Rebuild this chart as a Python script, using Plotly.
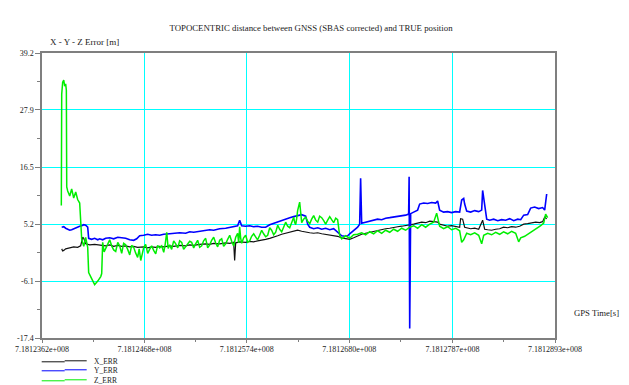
import plotly.graph_objects as go

# ---------------- data ----------------
T0 = 718123620  # GPS time [s] of first x tick

x_tick_vals = [718123620, 718124680, 718125740, 718126800, 718127870, 718128930]
x_tick_text = ["7.1812362e+008", "7.1812468e+008", "7.1812574e+008",
               "7.1812680e+008", "7.1812787e+008", "7.1812893e+008"]
x_minor_vals = [718124150, 718125210, 718126270, 718127335, 718128400]

y_tick_vals = [39.2, 27.9, 16.5, 5.2, -6.1, -17.4]
y_tick_text = ["39.2", "27.9", "16.5", "5.2", "-6.1", "-17.4"]
y_minor_vals = [33.55, 22.2, 10.85, -0.45, -11.75]

series_names = ["X_ERR", "Y_ERR", "Z_ERR"]
series_colors = ["#111111", "#0000ff", "#00ee00"]

# X_ERR  (seconds after T0, metres)
x_err_t = [204, 214, 225, 245, 287, 328, 369, 400, 421, 432, 452, 494, 545, 597, 659, 701,
           742, 784, 825, 866, 908, 949, 990, 1053, 1094, 1135, 1177, 1218, 1260, 1322, 1363,
           1425, 1487, 1529, 1570, 1632, 1694, 1736, 1777, 1839, 1901, 1943, 1984, 1994, 2005,
           2046, 2108, 2150, 2191, 2232, 2274, 2315, 2357, 2398, 2440, 2481, 2522, 2564, 2605,
           2646, 2688, 2729, 2771, 2812, 2854, 2895, 2936, 2978, 3019, 3060, 3102, 3143, 3185,
           3226, 3267, 3309, 3350, 3392, 3433, 3474, 3516, 3557, 3599, 3640, 3681, 3723, 3764,
           3806, 3847, 3888, 3930, 3971, 4013, 4054, 4095, 4116, 4157, 4199, 4240, 4282, 4323,
           4333, 4354, 4375, 4396, 4437, 4479, 4520, 4561, 4582, 4613, 4654, 4696, 4737, 4778,
           4820, 4861, 4903, 4944, 4986, 5027, 5068, 5110, 5151, 5182, 5203, 5224]
x_err_v = [0.3, -0.1, 0.0, 0.3, 0.5, 0.7, 0.6, 0.9, 2.6, 2.4, 1.3, 1.1, 1.2, 1.0, 0.9, 1.1,
           0.8, 1.0, 0.8, 0.9, 0.7, 0.8, 0.6, 0.7, 0.5, 0.7, 0.6, 0.8, 0.7, 0.9, 0.8,
           1.0, 0.9, 1.1, 1.0, 1.2, 1.3, 1.2, 1.4, 1.3, 1.5, 1.4, 1.6, -2.0, 1.5,
           1.7, 1.6, 1.8, 1.7, 1.9, 2.0, 2.2, 2.4, 2.6, 2.9, 3.2, 3.4, 3.7, 3.9,
           4.0, 3.8, 3.6, 3.5, 3.4, 3.5, 3.3, 3.2, 3.1, 3.0, 2.8, 2.5, 2.3, 2.2,
           2.5, 2.9, 3.2, 3.4, 3.6, 3.8, 3.9, 4.1, 4.3, 4.4, 4.6, 4.7, 4.8, 4.9,
           5.1, 5.2, 5.4, 5.6, 5.5, 5.8, 5.7, 5.6, 5.2, 5.0, 4.8, 4.9, 4.7, 4.6,
           6.3, 6.2, 4.6, 4.5, 4.3, 4.4, 4.2, 6.0, 4.2, 4.1, 4.0, 4.2, 4.3, 4.6,
           4.5, 4.7, 4.6, 4.8, 5.2, 5.3, 5.4, 5.6, 5.5, 5.7, 6.6, 6.3]

# Y_ERR
y_err_t = [204, 225, 245, 266, 287, 307, 328, 349, 369, 390, 411, 432, 452, 473, 483, 514,
           545, 577, 597, 628, 659, 701, 742, 784, 825, 866, 908, 949, 980, 1011, 1053, 1094,
           1135, 1177, 1218, 1260, 1322, 1363, 1425, 1487, 1529, 1570, 1632, 1694, 1736, 1777,
           1839, 1901, 1943, 1984, 2025, 2046, 2067, 2108, 2150, 2191, 2232, 2274, 2315, 2357,
           2398, 2440, 2481, 2522, 2564, 2605, 2646, 2688, 2729, 2750, 2771, 2812, 2854, 2895,
           2936, 2978, 3019, 3050, 3081, 3102, 3133, 3164, 3185, 3226, 3267, 3288, 3298, 3309,
           3350, 3392, 3433, 3474, 3516, 3557, 3599, 3640, 3681, 3723, 3764, 3795, 3800, 3806,
           3816, 3847, 3888, 3909, 3951, 3992, 4033, 4075, 4095, 4116, 4157, 4199, 4240, 4282,
           4323, 4344, 4365, 4375, 4396, 4437, 4479, 4520, 4551, 4561, 4582, 4603, 4634, 4675,
           4717, 4758, 4799, 4841, 4882, 4924, 4955, 4986, 5027, 5058, 5099, 5141, 5182, 5203,
           5224]
y_err_v = [4.6, 4.7, 4.4, 4.2, 4.0, 4.1, 4.3, 4.5, 4.6, 4.8, 4.9, 5.1, 5.0, 4.6, 2.4, 2.2,
           2.4, 2.1, 2.3, 2.1, 2.4, 2.5, 2.3, 2.6, 2.5, 2.4, 2.1, 2.0, 2.3, 2.9, 3.0, 3.2,
           3.0, 3.1, 3.0, 3.2, 3.3, 3.4, 3.5, 3.4, 3.7, 3.6, 3.8, 3.9, 4.1, 4.0,
           4.3, 4.4, 4.6, 4.7, 4.9, 6.0, 4.9, 4.8, 4.9, 4.7, 4.8, 4.6, 4.6, 5.1,
           5.4, 5.7, 5.9, 6.2, 6.5, 6.7, 6.9, 7.1, 6.8, 5.2, 4.6, 4.3, 4.5, 4.2,
           4.4, 4.1, 4.3, 3.7, 3.3, 2.9, 2.8, 2.9, 3.3, 3.9, 4.6, 5.2, 14.3, 5.4,
           5.6, 5.8, 6.0, 6.2, 6.1, 6.4, 6.5, 6.6, 6.8, 6.9, 7.0, 7.2, 14.6, -15.5,
           7.3, 7.6, 8.0, 9.2, 9.4, 9.3, 9.5, 9.4, 9.8, 8.0, 7.6, 7.7, 7.5, 7.7,
           7.6, 10.0, 10.3, 9.2, 7.8, 7.6, 7.9, 7.7, 8.0, 11.9, 8.5, 6.2, 6.0, 6.2,
           5.9, 6.1, 6.0, 6.3, 5.9, 6.2, 6.1, 7.0, 7.1, 8.4, 8.6, 8.3, 8.5, 8.0,
           11.2]

# Z_ERR
z_err_t = [200, 204, 214, 225, 235, 245, 252, 256, 266, 287, 307, 328, 349, 369, 390, 400,
           411, 432, 452, 473, 483, 514, 545, 577, 608, 618,
           628, 643, 659, 680, 701, 721, 742, 763, 784, 804, 825, 845, 866, 887, 908, 928,
           949, 969, 990, 1006, 1022, 1037, 1053, 1073, 1094, 1114, 1135, 1156, 1177, 1197,
           1218, 1239, 1260, 1275, 1291, 1306, 1322, 1342, 1363, 1384, 1405, 1425, 1446, 1466,
           1487, 1508, 1529, 1549, 1570, 1590, 1611, 1632, 1653, 1673, 1694, 1715, 1736, 1756,
           1777, 1797, 1818, 1839, 1860, 1880, 1901, 1922, 1943, 1963, 1984, 2005, 2025, 2036,
           2046, 2056, 2067, 2087, 2108, 2129, 2150, 2170, 2191, 2211, 2232, 2253, 2274, 2294,
           2315, 2336, 2357, 2377, 2398, 2419, 2440, 2460, 2481, 2501, 2522, 2543, 2564, 2584,
           2605, 2615, 2626, 2636, 2646, 2667,
           2688, 2708, 2729, 2750, 2771, 2791, 2812, 2833, 2854, 2874, 2895, 2916, 2936, 2957,
           2978, 2998, 3019, 3040, 3060,
           3081, 3102, 3143, 3185, 3226, 3267, 3309, 3350, 3392, 3433, 3474, 3516,
           3557, 3599, 3640, 3681, 3723, 3764, 3806, 3847, 3888, 3930, 3971, 4013, 4054, 4085,
           4116, 4157, 4199, 4240, 4282, 4323, 4344, 4365, 4396, 4437, 4479, 4520, 4551, 4572,
           4613, 4654, 4696, 4737, 4778, 4820, 4861, 4903, 4934, 4955, 4996, 5037, 5079, 5120,
           5162, 5193, 5213, 5234]
z_err_v = [8.9, 31.0, 33.4, 33.8, 32.6, 33.1, 31.8, 12.6, 11.8, 10.8, 12.2, 10.4, 11.6, 10.1, 9.4, 5.0,
           2.2, 0.8, 2.6, 0.6, -4.4, -5.6, -6.8, -6.1, -5.2, -4.6,
           1.6, -0.3, 0.4, 1.2, 2.1, 0.9, 0.1, -0.2, 1.6, 0.9, -0.6, 1.4, 1.1, 0.2, -0.9, 1.0,
           0.6, -0.5, -1.4, 0.3, -2.0, -0.8, 0.6, 1.2, -0.6, 0.2, 0.9, 0.0, -0.7, 1.0,
           0.5, 0.9, -0.4, 1.2, 3.6, 0.4, 1.1, 0.2, 1.9, 1.3, 0.5, 1.9, 1.6, 0.2,
           0.7, 1.2, 1.8, 1.6, 0.5, 1.3, 2.0, 0.6, 0.9, 1.9, 2.4, 0.5, 1.1, 2.0,
           2.6, 1.5, 0.7, 2.0, 2.3, 0.8, 1.3, 2.2, 3.0, 1.8, 0.9, 2.6, 3.4, 1.5,
           4.7, 2.5, 1.4, 2.5, 3.0, 1.6, 1.9, 2.8, 3.3, 2.7, 2.1, 3.0, 4.0, 3.3,
           2.7, 3.0, 4.5, 4.0, 3.1, 3.6, 5.0, 4.2, 3.7, 4.6, 5.6, 4.8, 4.5, 5.5,
           6.6, 5.6, 5.1, 6.3, 7.9, 9.6,
           5.5, 6.2, 6.6, 5.8, 5.3, 6.2, 6.9, 6.0, 5.6, 6.8, 6.5, 5.9, 5.2, 6.0,
           6.7, 6.1, 5.5, 6.4, 6.1,
           3.0, 2.3, 2.9, 2.4, 3.1, 3.2, 3.5, 3.1, 3.7, 3.3, 3.9, 3.4,
           4.0, 3.6, 4.2, 3.8, 4.4, 4.0, 4.6, 4.9, 4.4, 5.1, 4.6, 5.2, 5.6, 7.4,
           4.8, 4.3, 4.7, 4.1, 4.4, 3.9, 1.6, 2.1, 3.4, 3.1, 3.5, 3.0, 1.3, 3.0,
           3.4, 3.1, 3.6, 3.2, 3.7, 3.3, 3.8, 3.4, 1.7, 2.5, 2.8, 3.3, 3.8, 4.3,
           4.9, 5.4, 7.2, 6.5]

title_text = "TOPOCENTRIC distance between GNSS (SBAS corrected) and TRUE position"
y_title_text = "X - Y - Z Error [m]"
x_title_text = "GPS Time[s]"

assert len(x_err_t) == len(x_err_v)
assert len(y_err_t) == len(y_err_v)
assert len(z_err_t) == len(z_err_v)

# ---------------- figure ----------------
FONT = "Liberation Serif"
TXT = "#222222"

fig = go.Figure()
for name, color, ts, vs, w in [
    (series_names[0], series_colors[0], x_err_t, x_err_v, 1.2),
    (series_names[1], series_colors[1], y_err_t, y_err_v, 1.6),
    (series_names[2], series_colors[2], z_err_t, z_err_v, 1.5),
]:
    fig.add_trace(go.Scatter(
        x=[T0 + t for t in ts], y=vs, mode="lines", name=name,
        line=dict(color=color, width=w), showlegend=False,
    ))

axis_common = dict(
    showline=True, linecolor="#7f7f7f", linewidth=1.5, mirror=True,
    showgrid=True, gridcolor="#00ffff", gridwidth=1.3,
    zeroline=False, ticks="outside", tickcolor="#7f7f7f", tickwidth=1,
    tickfont=dict(family=FONT, size=8, color=TXT),
)

fig.update_xaxes(
    range=[x_tick_vals[0], x_tick_vals[-1]],
    tickmode="array", tickvals=x_tick_vals, ticktext=x_tick_text,
    ticklen=3,
    minor=dict(tickvals=x_minor_vals, ticks="outside", ticklen=2,
               tickcolor="#7f7f7f", showgrid=False),
    **axis_common,
)
fig.update_yaxes(
    range=[y_tick_vals[-1], y_tick_vals[0]],
    tickmode="array", tickvals=y_tick_vals, ticktext=y_tick_text,
    ticklen=5,
    minor=dict(tickvals=y_minor_vals, ticks="outside", ticklen=3,
               tickcolor="#7f7f7f", showgrid=False),
    **axis_common,
)

W, H = 629, 385
L, R, T, B = 42.3, 555.3, 52.7, 337.7
pw, ph = R - L, B - T


def px(xp):
    return (xp - L) / pw


def py(yp):
    return (B - yp) / ph


annotations = [
    dict(text=y_title_text, x=px(85), y=py(42), xref="paper", yref="paper",
         showarrow=False, xanchor="center", yanchor="middle",
         font=dict(family=FONT, size=9, color=TXT)),
    dict(text=x_title_text, x=px(572), y=py(313), xref="paper", yref="paper",
         showarrow=False, xanchor="left", yanchor="middle",
         font=dict(family=FONT, size=8.7, color=TXT)),
]
shapes = []
legend_rows = [361, 370, 380]
for name, color, yy in zip(series_names, series_colors, legend_rows):
    shapes.append(dict(type="line", xref="paper", yref="paper",
                       x0=px(42), x1=px(65), y0=py(yy + 0.5), y1=py(yy + 0.5),
                       line=dict(color=color, width=1)))
    shapes.append(dict(type="line", xref="paper", yref="paper",
                       x0=px(65), x1=px(87), y0=py(yy - 0.5), y1=py(yy - 0.5),
                       line=dict(color=color, width=1)))
    annotations.append(dict(text=name, x=px(92), y=py(yy), xref="paper", yref="paper",
                            showarrow=False, xanchor="left", yanchor="middle",
                            font=dict(family=FONT, size=7.5, color=TXT)))

fig.update_layout(
    width=W, height=H,
    margin=dict(l=L, r=W - R, t=T, b=H - B, pad=0),
    paper_bgcolor="white", plot_bgcolor="white",
    title=dict(text=title_text, x=311 / W, xanchor="center",
               y=1 - 28 / H, yanchor="middle",
               font=dict(family=FONT, size=8.8, color=TXT)),
    annotations=annotations, shapes=shapes,
    showlegend=False,
)

fig.write_html("out.html")
